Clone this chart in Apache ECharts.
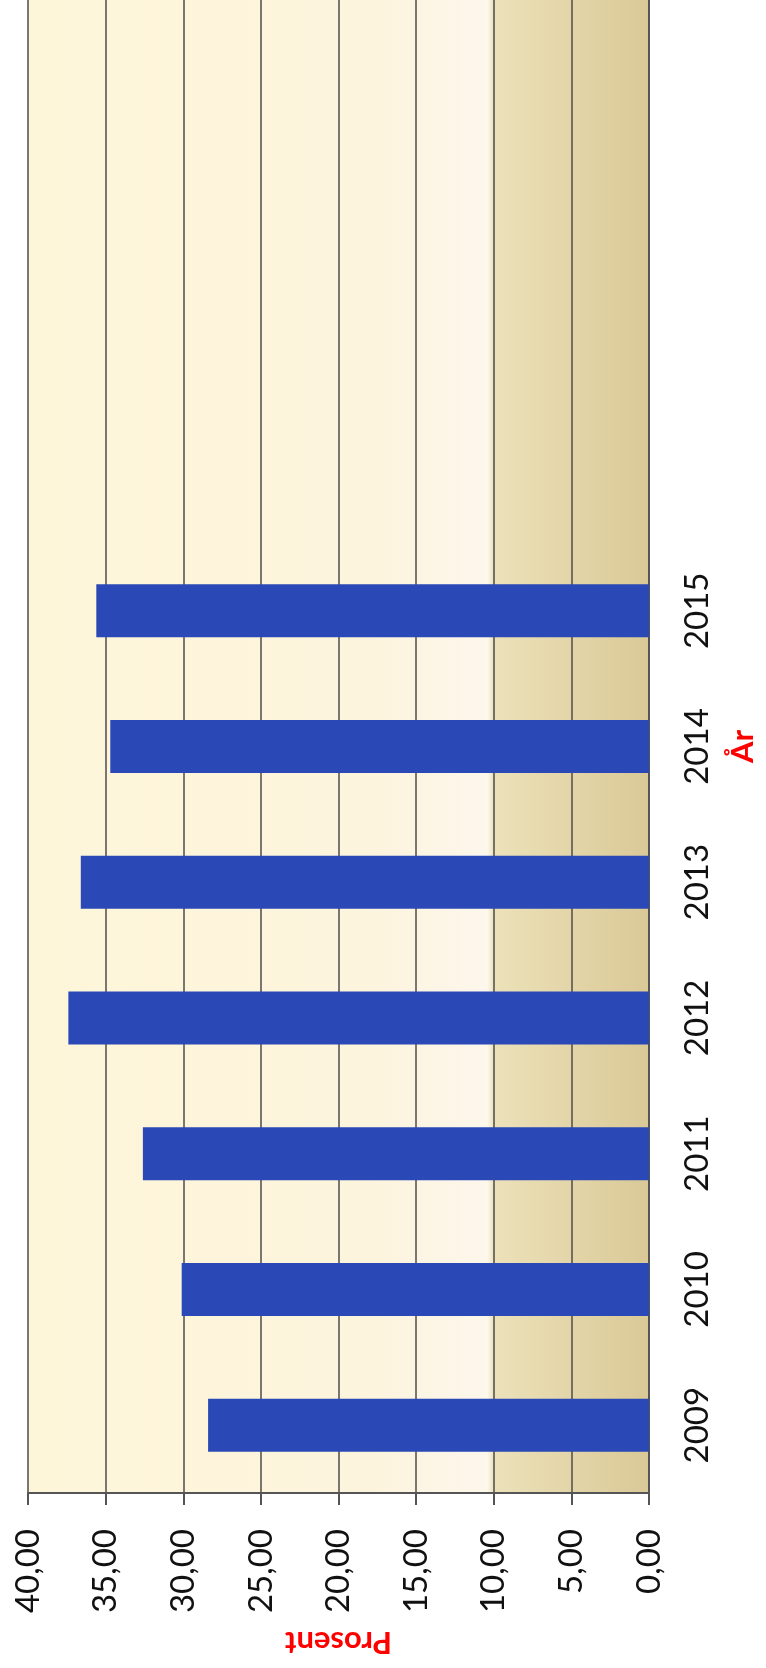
<!DOCTYPE html>
<html>
<head>
<meta charset="utf-8">
<script src="https://cdn.jsdelivr.net/npm/echarts@6/dist/echarts.min.js"></script>
<style>
html,body{margin:0;padding:0;background:#fff;}
#chart{width:766px;height:1668px;}
</style>
</head>
<body>
<div id="chart"></div>
<script>
// Categories (years), bottom to top; four trailing empty slots as in the original plot area
const years = ['2009', '2010', '2011', '2012', '2013', '2014', '2015'];
const emptySlots = ['', '', '', ''];
// Series values (Prosent)
const prosent = [28.4, 30.1, 32.6, 37.4, 36.6, 34.7, 35.6];
// Value axis settings
const valueMin = 0;
const valueMax = 40;
const valueStep = 5;
const valueAxisName = 'Prosent';
const categoryAxisName = 'År';

const categories = years.concat(emptySlots);

const chart = echarts.init(document.getElementById('chart'), null, {renderer: 'canvas'});
const fontFam = 'Lato, "Open Sans", sans-serif';

chart.setOption({
  animation: false,
  backgroundColor: '#ffffff',
  grid: {
    show: true,
    left: 28, right: 114, top: 0, bottom: 175,
    borderWidth: 0,
    backgroundColor: new echarts.graphic.LinearGradient(0, 0, 1, 0, [
      {offset: 0, color: '#fef6d9'},
      {offset: 0.55, color: '#fdf4dd'},
      {offset: 0.74, color: '#fdf7ec'},
      {offset: 0.75, color: '#ece1b9'},
      {offset: 1, color: '#dac997'}
    ])
  },
  xAxis: {
    type: 'value',
    inverse: true,
    min: valueMin,
    max: valueMax,
    interval: valueStep,
    position: 'bottom',
    name: valueAxisName,
    nameLocation: 'middle',
    nameGap: 133,
    nameRotate: 180,
    nameTextStyle: {color: '#ff0000', fontWeight: 'bold', fontSize: 31, fontFamily: fontFam},
    axisLine: {show: true, lineStyle: {color: '#555555', width: 2}},
    axisTick: {show: true, inside: false, length: 12, lineStyle: {color: '#555555', width: 2}},
    splitLine: {show: true, lineStyle: {color: '#4d4d4d', width: 1.5}},
    axisLabel: {
      rotate: 90,
      margin: 36,
      fontSize: 33,
      fontFamily: fontFam,
      color: '#111111',
      formatter: function (v) { return v.toFixed(2).replace('.', ','); }
    }
  },
  yAxis: {
    type: 'category',
    position: 'right',
    data: categories,
    name: categoryAxisName,
    nameLocation: 'middle',
    nameGap: 78,
    nameRotate: 90,
    nameTextStyle: {color: '#ff0000', fontWeight: 'bold', fontSize: 31, fontFamily: fontFam},
    axisLine: {show: true, lineStyle: {color: '#555555', width: 2}},
    axisTick: {show: false},
    splitLine: {show: false},
    axisLabel: {
      interval: 0,
      rotate: 90,
      margin: 32,
      fontSize: 33,
      fontFamily: fontFam,
      color: '#111111'
    }
  },
  series: [{
    type: 'bar',
    data: prosent,
    barWidth: 53,
    itemStyle: {color: '#2a49b6'}
  }]
});
</script>
</body>
</html>
